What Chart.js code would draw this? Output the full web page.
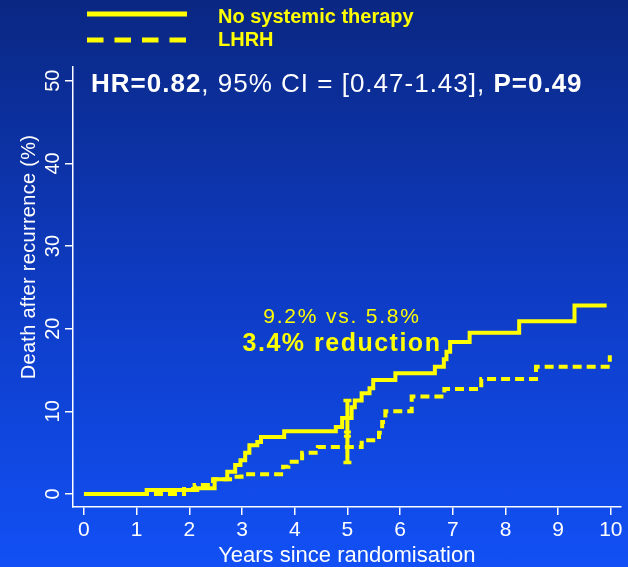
<!DOCTYPE html>
<html>
<head>
<meta charset="utf-8">
<title>Death after recurrence</title>
<script src="https://cdn.jsdelivr.net/npm/chart.js@4.4.1/dist/chart.umd.min.js"></script>
<style>
  html, body { margin: 0; padding: 0; }
  body {
    width: 628px; height: 567px; overflow: hidden;
    background: linear-gradient(to bottom, #0a2782 0%, #0e3dc8 55%, #1250f5 100%);
  }
  canvas { display: block; }
</style>
</head>
<body>
<canvas id="km" width="628" height="567"></canvas>
<script>
// step curves: value (%) jumps to pct[i] at years[i]
const noTherapyYears = [0, 1.19, 2.15, 2.48, 2.72, 2.87, 2.97, 3.06, 3.14, 3.29, 3.36, 3.80, 4.78, 4.90, 5.08, 5.14, 5.27, 5.42, 5.49, 5.91, 6.66, 6.83, 6.88, 6.95, 7.32, 8.26, 9.31, 9.92];
const noTherapyPct   = [0, 0.5,  0.7,  1.8,  2.7,  3.5,  4.1,  5.0,  5.9,  6.3,  6.9,  7.6,  8.1,  9.2,  10.5, 11.3, 12.2, 12.8, 13.8, 14.6, 15.4, 16.3, 17.2, 18.4, 19.5, 20.9, 22.8, 22.8];

const lhrhYears = [0, 1.90, 2.10, 2.45, 2.85, 2.99, 3.78, 3.88, 4.14, 4.44, 5.27, 5.33, 5.60, 5.66, 5.72, 6.22, 6.84, 7.54, 8.58, 9.98];
const lhrhPct   = [0, 0.6,  1.1,  1.8,  2.1,  2.4,  3.3,  3.9,  5.0,  5.7,  6.2,  6.5,  7.4,  8.7,  10.0, 11.8, 12.7, 13.9, 15.4, 16.8];

// difference at 5 years with its interval
const ciYear = 5;
const ciRange = [3.8, 11.3];
const ciMarks = [7.5, 7.0];

const xTicks = [0, 1, 2, 3, 4, 5, 6, 7, 8, 9, 10];
const yTicks = [0, 10, 20, 30, 40, 50];

const YELLOW = '#ffff00';
const WHITE = '#ffffff';
const FONT = '"Liberation Sans", Arial, Helvetica, sans-serif';

Chart.defaults.font.family = FONT;

function toPoints(xs, ys) {
  return xs.map((x, i) => ({ x: x, y: ys[i] }));
}

// legend, HR line, annotation and y title
const overlay = {
  id: 'overlay',
  afterDraw(chart) {
    const ctx = chart.ctx;
    ctx.save();

    ctx.strokeStyle = YELLOW;
    ctx.lineWidth = 5;
    ctx.beginPath(); ctx.moveTo(87, 14); ctx.lineTo(187, 14); ctx.stroke();
    ctx.setLineDash([16.5, 11]);
    ctx.beginPath(); ctx.moveTo(87, 40); ctx.lineTo(187, 40); ctx.stroke();
    ctx.setLineDash([]);

    ctx.fillStyle = YELLOW;
    ctx.textBaseline = 'alphabetic';
    ctx.textAlign = 'left';
    ctx.font = 'bold 20px ' + FONT;
    ctx.fillText('No systemic therapy', 218, 23);
    ctx.fillText('LHRH', 218, 46);

    // HR text, mixed weights
    const parts = [['HR=0.82', true], [', 95% CI = [0.47-1.43], ', false], ['P=0.49', true]];
    ctx.fillStyle = WHITE;
    ctx.letterSpacing = '1px';
    let x = 91;
    parts.forEach(([t, bold]) => {
      ctx.font = (bold ? 'bold ' : '') + '26px ' + FONT;
      ctx.fillText(t, x, 92);
      x += ctx.measureText(t).width;
    });

    ctx.fillStyle = YELLOW;
    ctx.textAlign = 'center';
    ctx.letterSpacing = '1.8px';
    ctx.font = '21px ' + FONT;
    ctx.fillText('9.2% vs. 5.8%', 342, 323);
    ctx.letterSpacing = '1.5px';
    ctx.font = 'bold 25px ' + FONT;
    ctx.fillText('3.4% reduction', 342, 351);

    ctx.letterSpacing = '0.3px';
    ctx.fillStyle = WHITE;
    ctx.font = '20px ' + FONT;
    ctx.translate(29, 257);
    ctx.rotate(-Math.PI / 2);
    ctx.textBaseline = 'middle';
    ctx.fillText('Death after recurrence (%)', 0, 0);

    ctx.restore();
  }
};

new Chart(document.getElementById('km'), {
  type: 'line',
  data: {
    datasets: [
      {
        label: 'No systemic therapy',
        data: toPoints(noTherapyYears, noTherapyPct),
        borderColor: YELLOW,
        borderWidth: 4,
        stepped: true,
        pointRadius: 0,
        fill: false
      },
      {
        label: 'LHRH',
        data: toPoints(lhrhYears, lhrhPct),
        borderColor: YELLOW,
        borderWidth: 4,
        borderDash: [9, 5],
        stepped: true,
        pointRadius: 0,
        fill: false
      },
      {
        label: '95% CI',
        data: ciRange.map(v => ({ x: ciYear, y: v })),
        borderColor: YELLOW,
        borderWidth: 4,
        pointStyle: 'line',
        pointRadius: 4,
        pointBorderWidth: 3.5,
        pointBorderColor: YELLOW
      },
      {
        label: 'marks',
        data: ciMarks.map(v => ({ x: ciYear, y: v })),
        showLine: false,
        pointStyle: 'line',
        pointRadius: 3.5,
        pointBorderWidth: 3,
        pointBorderColor: YELLOW
      }
    ]
  },
  options: {
    responsive: false,
    animation: false,
    events: [],
    layout: { padding: { top: 67, right: 5, left: 0, bottom: 0 } },
    plugins: {
      legend: { display: false },
      tooltip: { enabled: false }
    },
    scales: {
      x: {
        type: 'linear',
        min: -0.208,
        max: 10.183,
        afterBuildTicks: s => { s.ticks = xTicks.map(v => ({ value: v })); },
        afterFit: s => { s.height = 60; s.paddingLeft = 0; s.paddingRight = 0; },
        grid: { drawOnChartArea: false, color: WHITE, tickLength: 8, lineWidth: 1.5 },
        border: { color: WHITE, width: 1.5 },
        ticks: { color: WHITE, font: { size: 21 }, padding: 3, maxRotation: 0 },
        title: {
          display: true,
          text: 'Years since randomisation',
          color: WHITE,
          font: { size: 22 },
          padding: { top: 0, bottom: -2 }
        }
      },
      y: {
        type: 'linear',
        min: -1.57,
        max: 51.66,
        afterBuildTicks: s => { s.ticks = yTicks.map(v => ({ value: v })); },
        afterFit: s => { s.width = 73; s.paddingTop = 0; s.paddingBottom = 0; },
        grid: { drawOnChartArea: false, color: WHITE, tickLength: 8, lineWidth: 1.5 },
        border: { color: WHITE, width: 1.5 },
        ticks: { color: WHITE, font: { size: 20 }, padding: 0, minRotation: 90, maxRotation: 90, crossAlign: 'center' }
      }
    }
  },
  plugins: [overlay]
});
</script>
</body>
</html>
